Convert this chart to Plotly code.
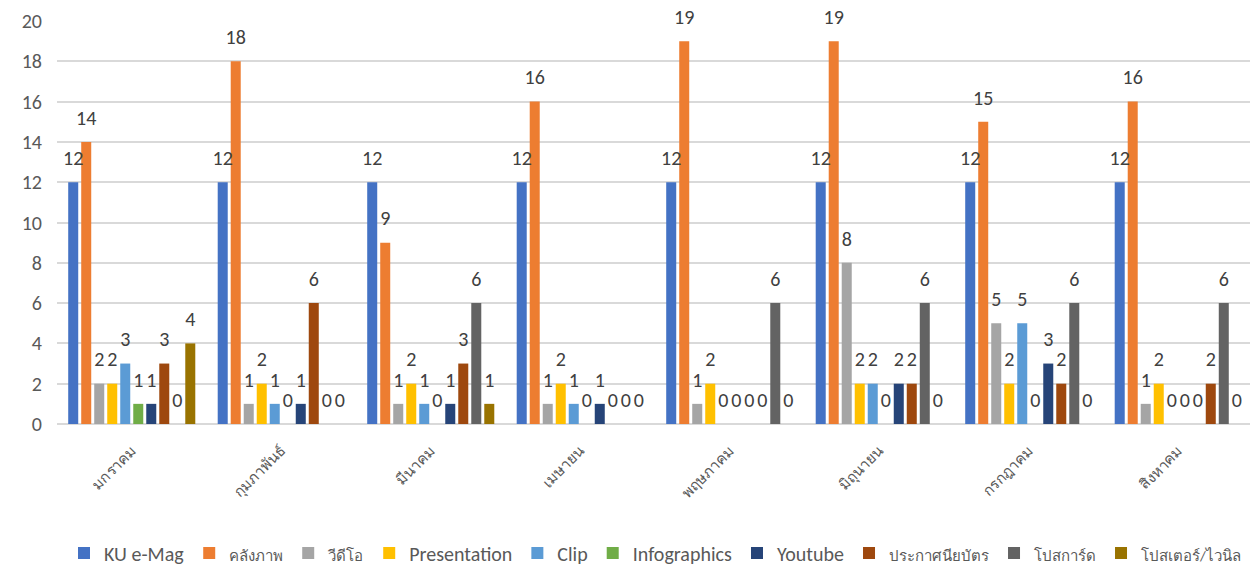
import plotly.graph_objects as go

months = ["มกราคม", "กุมภาพันธ์", "มีนาคม", "เมษายน", "พฤษภาคม", "มิถุนายน", "กรกฎาคม", "สิงหาคม"]

series_names = ["KU e-Mag", "คลังภาพ", "วีดีโอ", "Presentation", "Clip", "Infographics",
                "Youtube", "ประกาศนียบัตร", "โปสการ์ด", "โปสเตอร์/ไวนิล"]

ku_emag      = [12, 12, 12, 12, 12, 12, 12, 12]
photo_bank   = [14, 18, 9, 16, 19, 19, 15, 16]
video        = [2, 1, 1, 1, 1, 8, 5, 1]
presentation = [2, 2, 2, 2, 2, 2, 2, 2]
clip         = [3, 1, 1, 1, 0, 2, 5, 0]
infographics = [1, 0, 0, 0, 0, 0, 0, 0]
youtube      = [1, 1, 1, 1, 0, 2, 3, 0]
certificate  = [3, 6, 3, 0, 0, 2, 2, 2]
postcard     = [0, 0, 6, 0, 6, 6, 6, 6]
poster       = [4, 0, 1, 0, 0, 0, 0, 0]

values = [ku_emag, photo_bank, video, presentation, clip, infographics,
          youtube, certificate, postcard, poster]

colors = ["#4472C4", "#ED7D31", "#A5A5A5", "#FFC000", "#5B9BD5", "#70AD47",
          "#264478", "#9E480E", "#636363", "#997300"]

def is_thai(s):
    return any('\u0e00' <= ch <= '\u0e7f' for ch in s)

fig = go.Figure()
for i, (name, vals, col) in enumerate(zip(series_names, values, colors)):
    legend_name = f"<span style='font-size:15px'>{name}</span>" if is_thai(name) else name
    fig.add_trace(go.Bar(
        x=months, y=vals, name=legend_name,
        marker=dict(color=col, line=dict(width=0)),
        offsetgroup=str(i), alignmentgroup="a",
        hoverinfo="y+name",
    ))
for i, vals in enumerate(values):
    fig.add_trace(go.Scatter(
        x=months, y=vals, mode="markers+text",
        marker=dict(size=18, opacity=0),
        text=[str(v) for v in vals],
        textposition="top center",
        textfont=dict(size=20, color="#404040"),
        offsetgroup=str(i), alignmentgroup="a",
        showlegend=False, hoverinfo="skip", cliponaxis=False,
    ))

fig.update_layout(
    width=1250, height=563,
    barmode="group",
    bargap=0.13,
    bargroupgap=0.23,
    scattermode="group",
    scattergap=0.13,
    plot_bgcolor="white",
    paper_bgcolor="white",
    margin=dict(l=49, r=5, t=13, b=147, autoexpand=False),
    font=dict(family="Carlito, Lato, sans-serif", color="#595959", size=20),
    legend=dict(orientation="h", x=0.5, xanchor="center", y=-0.32, yanchor="middle",
                font=dict(size=20, color="#595959"), traceorder="normal",
                itemwidth=30, tracegroupgap=0),
    showlegend=True,
)
fig.update_yaxes(range=[0, 20], dtick=2, showgrid=True, gridcolor="#D9D9D9", gridwidth=1.5,
                 zeroline=True, zerolinecolor="#D9D9D9", zerolinewidth=1.5,
                 showline=False, ticks="", tickfont=dict(size=20, color="#595959"),
                 ticklabelstandoff=14, automargin=False)
fig.update_xaxes(tickangle=-45, showline=False, ticks="", automargin=False,
                 tickfont=dict(size=15, color="#595959"), ticklabelstandoff=14)

fig.write_html("out.html")
